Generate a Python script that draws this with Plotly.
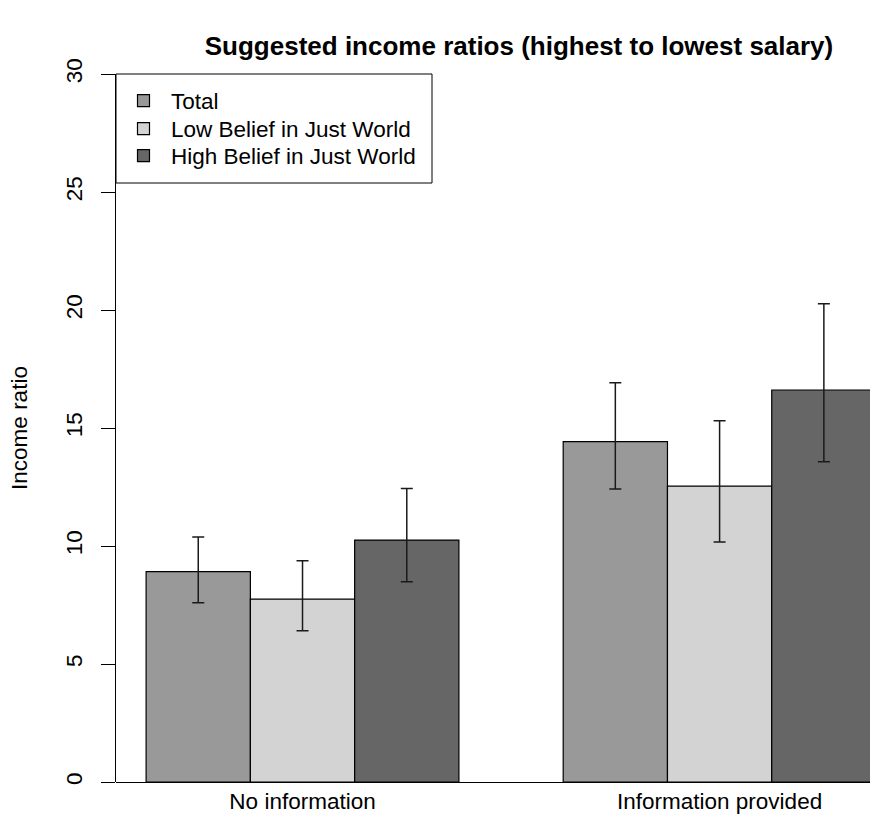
import plotly.graph_objects as go

# ---- data ----
groups = ["No information", "Information provided"]
series_names = ["Total", "Low Belief in Just World", "High Belief in Just World"]
total_mean = [8.91, 14.42]
total_low = [7.60, 12.42]
total_high = [10.38, 16.92]
lowbjw_mean = [7.75, 12.54]
lowbjw_low = [6.41, 10.17]
lowbjw_high = [9.38, 15.31]
highbjw_mean = [10.25, 16.61]
highbjw_low = [8.49, 13.57]
highbjw_high = [12.44, 20.27]
y_ticks = [0, 5, 10, 15, 20, 25, 30]

colors = ["#999999", "#D3D3D3", "#666666"]
series = [
    (total_mean, total_low, total_high),
    (lowbjw_mean, lowbjw_low, lowbjw_high),
    (highbjw_mean, highbjw_low, highbjw_high),
]

FONT = "Liberation Sans, Arial, Helvetica, sans-serif"
FS = 22.5
W, H = 870, 840
ML, MR, MT = 116, 0, 74
MB = H - 782
plot_w = W - ML - MR
plot_h = H - MT - MB


def py(page_y):
    """pixel y -> paper y"""
    return 1 - (page_y - MT) / plot_h


def px(page_x):
    return (page_x - ML) / plot_w


legend_ids = ["legend", "legend2", "legend3"]
row_centers = [101, 129, 156]

fig = go.Figure()
for name, col, (m, lo, hi), lid in zip(series_names, colors, series, legend_ids):
    fig.add_trace(go.Bar(
        x=groups, y=m, name=name, legend=lid,
        marker=dict(color=col, line=dict(color="#000000", width=1.2)),
        error_y=dict(
            type="data", symmetric=False,
            array=[h - v for h, v in zip(hi, m)],
            arrayminus=[v - l for v, l in zip(m, lo)],
            color="#1a1a1a", thickness=1.5, width=6,
        ),
    ))

# legend box (R style)
fig.add_shape(type="rect", xref="paper", yref="paper",
              x0=0, x1=px(432), y0=py(183), y1=1,
              line=dict(color="#000000", width=1), fillcolor="rgba(0,0,0,0)",
              layer="above")

legend_common = dict(xanchor="left", yanchor="middle",
                     bgcolor="rgba(0,0,0,0)", borderwidth=0, itemwidth=45,
                     font=dict(family=FONT, size=FS, color="#000000"))
legends = {}
for lid, yc in zip(legend_ids, row_centers):
    legends[lid] = dict(x=px(116), y=py(yc), **legend_common)

fig.update_layout(
    width=W, height=H,
    margin=dict(l=ML, r=MR, t=MT, b=MB, autoexpand=False),
    paper_bgcolor="white", plot_bgcolor="white",
    barmode="group", bargap=0.25, bargroupgap=0,
    hovermode=False,
    font=dict(family=FONT, size=FS, color="#000000"),
    title=dict(text="<b>Suggested income ratios (highest to lowest salary)</b>",
               font=dict(family=FONT, size=26, color="#000000"),
               x=519 / W, xref="container", xanchor="center",
               y=1 - 46 / H, yref="container", yanchor="middle"),
    showlegend=True,
    xaxis=dict(type="category", range=[-0.4472, 1.3606],
               showline=False, ticks="", showgrid=False, zeroline=False,
               tickfont=dict(family=FONT, size=FS, color="#000000"),
               ticklabelstandoff=3, automargin=False),
    yaxis=dict(range=[0, 30], tickvals=y_ticks, ticktext=[str(v) for v in y_ticks],
               showline=True, linecolor="#000000", linewidth=1,
               ticks="outside", ticklen=14, tickcolor="#000000", tickwidth=1,
               tickangle=-90, showgrid=False,
               zeroline=True, zerolinecolor="#000000", zerolinewidth=1,
               tickfont=dict(family=FONT, size=FS, color="#000000"),
               ticklabelstandoff=10,
               title=dict(text="Income ratio", font=dict(family=FONT, size=FS, color="#000000"),
                          standoff=28),
               automargin=False),
    **legends,
)

fig.write_html("out.html",
               config={"displayModeBar": False},
               post_script="document.body.style.margin='0';"
                           "document.body.style.overflow='hidden';")
